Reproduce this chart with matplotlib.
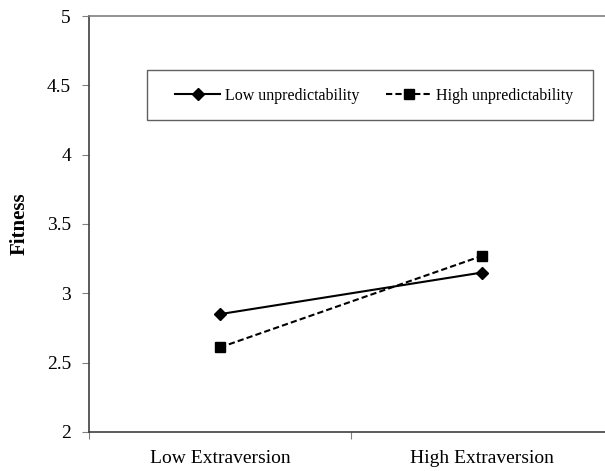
import matplotlib.pyplot as plt
from matplotlib.patches import Rectangle

# data
categories = ['Low Extraversion', 'High Extraversion']
low_unpred = [2.85, 3.15]
high_unpred = [2.61, 3.27]

plt.rcParams['font.family'] = ['Liberation Serif', 'DejaVu Serif']

fig = plt.figure(figsize=(6.05, 4.71), dpi=100)
W, H = 605, 471
ax = fig.add_axes([89 / W, 39 / H, (613 - 89) / W, 416 / H])

xpos = [0.5, 1.5]
ax.plot(xpos, low_unpred, color='black', lw=1.5, marker='D', ms=6,
        label='Low unpredictability')
ax.plot(xpos, high_unpred, color='black', lw=1.5, ls=(0, (3, 1.5)), marker='s', ms=7.5,
        label='High unpredictability')

ax.set_xlim(0, 2)
ax.set_ylim(2, 5)
ax.set_yticks([2, 2.5, 3, 3.5, 4, 4.5, 5])
ax.set_yticklabels(['2', '2.5', '3', '3.5', '4', '4.5', '5'])
ax.set_xticks([0, 1, 2])
ax.set_xticklabels([])
ax.set_xticks(xpos, minor=True)
ax.set_xticklabels(categories, minor=True)
ax.tick_params(axis='x', which='minor', length=0, pad=13, labelsize=14)
ax.tick_params(axis='x', which='major', direction='out', length=5, color='#808080')
ax.tick_params(axis='y', direction='out', length=5, labelsize=14, pad=8, color='#808080')

ax.spines['right'].set_visible(False)
ax.spines['top'].set_color('#808080')
for s in ['left', 'bottom']:
    ax.spines[s].set_color('#404040')
for s in ['left', 'bottom', 'top']:
    ax.spines[s].set_linewidth(1.2)

ax.set_ylabel('Fitness', fontsize=15, fontweight='bold', labelpad=12)

# legend box
fig.patches.append(Rectangle((147 / W, 1 - 120 / H), (593 - 147) / W, 50 / H,
                             transform=fig.transFigure, fill=False,
                             edgecolor='#606060', lw=1))
ax.legend(loc='center', bbox_to_anchor=(374 / W, 1 - 96 / H),
          bbox_transform=fig.transFigure, ncol=2, frameon=False,
          fontsize=11.5, handlelength=2.8, columnspacing=1.7, handletextpad=0.3)

fig.savefig('out.png', dpi=100)
